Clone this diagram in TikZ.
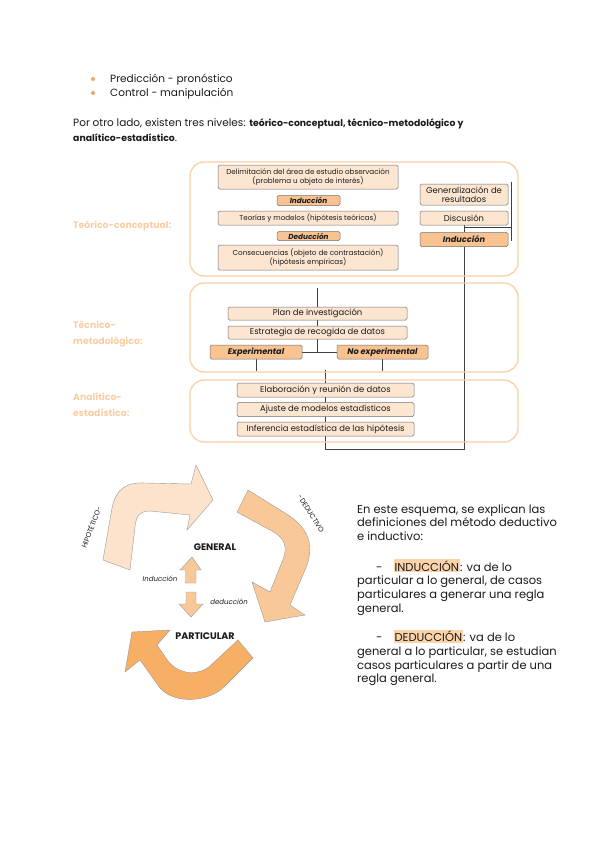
\documentclass[tikz,border=0pt]{standalone}
\usepackage{fontspec}
\setmainfont{Poppins}
\usetikzlibrary{backgrounds}
\definecolor{bulletc}{HTML}{F5A55E}
\definecolor{lblc}{HTML}{F9CDA3}
\definecolor{framec}{HTML}{F9D0A8}
\definecolor{peach}{HTML}{FDE6D1}
\definecolor{darkf}{HTML}{F8C391}
\definecolor{boxline}{HTML}{707070}
\definecolor{linec}{HTML}{404040}
\definecolor{arrA}{HTML}{FDE3CB}
\definecolor{arrB}{HTML}{F9C899}
\definecolor{arrC}{HTML}{F6AF65}
\definecolor{hlc}{HTML}{FDD3AA}
\definecolor{txt}{HTML}{1A1A1A}
\setlength{\fboxsep}{1pt}
\begin{document}
\begin{tikzpicture}[x=1pt,y=-1pt,
  bodytxt/.style={inner sep=0pt, anchor=base west, align=left, text=txt, font=\fontsize{10.5}{15.5}\selectfont},
  rtxt/.style={inner sep=0pt, anchor=base west, align=left, text=txt, font=\fontsize{11.5}{13.8}\selectfont},
  lvl/.style={inner sep=0pt, anchor=base west, align=left, text=lblc, font=\fontsize{9.3}{16}\selectfont\bfseries},
  bulletdot/.style={circle, fill=bulletc, inner sep=0pt, minimum size=4pt},
  frame/.style={draw=framec, line width=1.3pt, rounded corners=14pt},
  pbox/.style={draw=boxline, line width=0.5pt, fill=peach, rounded corners=1.5pt, inner sep=0pt, align=center, text=txt, font=\fontsize{7.2}{8.6}\selectfont},
  dbox/.style={pbox, fill=darkf, font=\fontsize{7.3}{8}\selectfont\bfseries\itshape},
  mbox/.style={pbox, font=\fontsize{8.4}{9}\selectfont},
  mdbox/.style={pbox, fill=darkf, font=\fontsize{8.2}{9}\selectfont\bfseries\itshape},
  conn/.style={draw=linec, line width=0.6pt},
  bigarrow/.style={draw=black!40, line width=0.4pt},
  clbl/.style={inner sep=0pt, anchor=base, text=txt, font=\fontsize{9.5}{11}\selectfont\bfseries},
  ilbl/.style={inner sep=0pt, anchor=base, text=txt, font=\fontsize{7}{8}\selectfont\itshape},
  rlbl/.style={inner sep=0pt, text=txt, font=\fontsize{7}{8}\selectfont}
]
\useasboundingbox (0,0) rectangle (600,848);

% bullets and introductory text
\node[bulletdot] (d1) at (93,79) {};
\node[bulletdot] (d2) at (93,93) {};
\node[bodytxt] (b1) at (110,82.5) {Predicción - pronóstico};
\node[bodytxt] (b2) at (110,96.5) {Control - manipulación};
\node[bodytxt] (p1) at (73,141.5) {Por otro lado, existen tres niveles: {\fontsize{9.3}{15.5}\selectfont\bfseries teórico-conceptual, técnico-metodológico y}\\{\fontsize{9.3}{15.5}\selectfont\bfseries analítico-estadístico}.};

% level frames
\draw[frame] (190,162) rectangle (518,276);
\draw[frame] (190,283) rectangle (518,372);
\draw[frame] (190,380) rectangle (518,442);

% level labels
\node[lvl] (l1) at (73,228.5) {Teórico-conceptual:};
\node[lvl] (l2) at (73,344.5) {Técnico-\\metodológico:};
\node[lvl] (l3) at (73,416) {Analítico-\\estadístico:};

% level 1 boxes
\node[pbox, minimum width=180, minimum height=24] (delim) at (308,177) {Delimitación del área de estudio observación\\(problema u objeto de interés)};
\node[dbox, minimum width=63, minimum height=10] (ind1) at (308.5,200.5) {Inducción};
\node[pbox, minimum width=180, minimum height=14] (teor) at (308,218) {Teorías y modelos (hipótesis teóricas)};
\node[dbox, minimum width=63, minimum height=9] (ded1) at (308.5,236) {Deducción};
\node[pbox, minimum width=180, minimum height=25] (cons) at (308,257.5) {Consecuencias (objeto de contrastación)\\(hipótesis empíricas)};
\node[mbox, minimum width=88, minimum height=21] (gbox) at (464,194.5) {Generalización de\\resultados};
\node[mbox, minimum width=88, minimum height=14] (disc) at (464,218) {Discusión};
\node[mdbox, minimum width=88, minimum height=14] (ind2) at (464,239.5) {Inducción};

% level 2 boxes
\node[mbox, minimum width=179, minimum height=13] (plan) at (317.5,313.5) {Plan de investigación};
\node[mbox, minimum width=179, minimum height=13] (estr) at (317.5,332.5) {Estrategia de recogida de datos};
\node[mdbox, minimum width=92, minimum height=14] (expn) at (256,352) {Experimental};
\node[mdbox, minimum width=91, minimum height=14] (noexp) at (382.5,352) {No experimental};

% level 3 boxes
\node[mbox, minimum width=177, minimum height=14] (elab) at (325.5,390) {Elaboración y reunión de datos};
\node[mbox, minimum width=177, minimum height=14] (ajus) at (325.5,409.5) {Ajuste de modelos estadísticos};
\node[mbox, minimum width=177, minimum height=14] (infe) at (325.5,429) {Inferencia estadística de las hipótesis};

% connector coordinates
\coordinate (gtop) at (511,182);
\coordinate (gbot) at (511,241);
\coordinate (gj) at (511,227);
\coordinate (ptop) at (317,288);
\coordinate (eb) at (0,371);
\coordinate (bL) at (325,449);
\coordinate (tL) at (325,370);

\begin{scope}[on background layer]
\draw[conn] (gtop) -- (gbot);
\draw[conn] (disc.south -| ind2.north) -- (ind2.north);
\draw[conn] (disc.south |- gj) -- (gj);
\draw[conn] (ind2.south) -- (ind2.south |- bL) -- (bL) -- (tL);
\draw[conn] (ptop) -- (ptop |- expn.east);
\draw[conn] (expn.east) -- (noexp.west);
\draw[conn] (expn.south) -- (expn.south |- eb);
\draw[conn] (noexp.south) -- (noexp.south |- eb);
\end{scope}

% cycle of big arrows
\path[bigarrow, fill=arrA] (103,560) -- (112,508) .. controls (116,489) and (126,482) .. (146,483) -- (191,484) -- (196,465) -- (213,500) -- (187,530) -- (190,515) -- (150,511) .. controls (140,511) and (136,516) .. (135,527) -- (130,570) -- cycle;
\path[bigarrow, fill=arrB] (248,490) -- (285,513) .. controls (310,528) and (315,547) .. (305,570) -- (290,605) -- (305,615) -- (265,622) -- (252,582) -- (270,592) -- (282,562) .. controls (289,546) and (284,537) .. (270,530) -- (237,512) -- cycle;
\path[bigarrow, fill=arrC] (238,640) -- (210,666) .. controls (200,675) and (180,676) .. (168,661) -- (157,645) -- (170,630) -- (132,632) -- (125,672) -- (140,660) -- (160,688) .. controls (175,705) and (210,702) .. (225,686) -- (253,658) -- cycle;

% small arrows
\path[bigarrow, fill=arrB] (185.5,583) -- (185.5,570) -- (180,570) -- (192,557) -- (201,570) -- (196,570) -- (196,583) -- cycle;
\path[bigarrow, fill=arrB] (186,592) -- (196,592) -- (196,604) -- (203,604) -- (191,617) -- (179,604) -- (186,604) -- cycle;

% cycle labels
\node[clbl] (lgen) at (215,550) {GENERAL};
\node[clbl] (lpart) at (205,639) {PARTICULAR};
\node[ilbl] (lind) at (160,581) {Inducción};
\node[ilbl] (lded) at (229,604) {deducción};
\node[rlbl, rotate=69] (lhip) at (91,527) {HIPOTÉTICO-};
\node[rlbl, rotate=-58] (ldedv) at (311,514) {-DEDUCTIVO};

% explanatory text
\node[rtxt] (r1) at (357,540.6) {En este esquema, se explican las\\definiciones del método deductivo\\e inductivo:};
\node[rtxt] (r2) at (357,612.4) {\hspace*{19pt}-\hspace*{11pt}\colorbox{hlc}{INDUCCIÓN}: va de lo\\particular a lo general, de casos\\particulares a generar una regla\\general.};
\node[rtxt] (r3) at (357,682.9) {\hspace*{19pt}-\hspace*{11pt}\colorbox{hlc}{DEDUCCIÓN}: va de lo\\general a lo particular, se estudian\\casos particulares a partir de una\\regla general.};
\end{tikzpicture}
\end{document}
